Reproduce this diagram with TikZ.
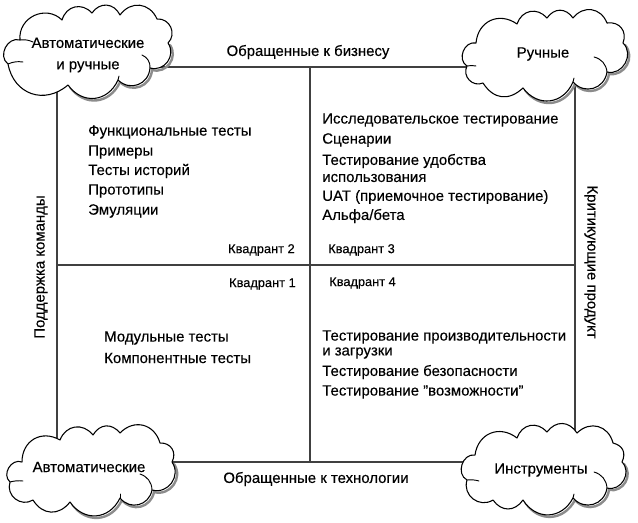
\documentclass[tikz,border=0pt]{standalone}
\usepackage{fontspec}
\setmainfont[FakeBold=0.25]{Liberation Sans}
\usetikzlibrary{backgrounds}
\tikzset{
 x=0.75pt,y=-0.75pt,
 txt/.style={font=\fontsize{11.2}{13}\selectfont,inner sep=0,anchor=west,text=black,align=left},
 ctr/.style={txt,anchor=center,align=center},
 quad/.style={txt,font=\fontsize{9.6}{11}\selectfont},
 rule/.style={draw=black!75,line width=0.9pt},
 cloudline/.style={draw=black,line width=0.8pt,fill=white,line join=round},
 shade/.style={draw=black!45,line width=1.8pt,line cap=round},
 curl/.style={draw=black,line width=0.7pt,line cap=round},
 bp/.style={bend left=#1,looseness=1.25},
}
\begin{document}
\begin{tikzpicture}
\useasboundingbox (0,0) rectangle (638,523);
% anchors of the frame
\coordinate (tlE) at (150,67); \coordinate (trW) at (470,67);
\coordinate (tlS) at (57,80); \coordinate (blN) at (57,445);
\coordinate (trS) at (575,80); \coordinate (brN) at (575,440);
\coordinate (blE) at (170,462); \coordinate (brW) at (470,462);
\coordinate (midL) at (57,265); \coordinate (midR) at (575,265);
\coordinate (midT) at (310,67); \coordinate (midB) at (310,462);
% cloud labels
\node[ctr] (ctl) at (88,55) {Автоматические\\[3pt]и ручные};
\node[ctr] (ctr) at (543,54) {Ручные};
\node[ctr] (cbl) at (89,467) {Автоматические};
\node[ctr] (cbr) at (541,470) {Инструменты};
% axis labels
\node[ctr] (top) at (308,52) {Обращенные к бизнесу};
\node[ctr] (bot) at (316,479) {Обращенные к технологии};
\node[ctr,rotate=90] (lft) at (41,267) {Поддержка команды};
\node[ctr,rotate=-90] (rgt) at (591,262) {Критикующие продукт};
% quadrant lists
\node[txt] (q2a) at (88,132) {Функциональные тесты};
\node[txt] (q2b) at (88,152) {Примеры};
\node[txt] (q2c) at (88,171) {Тесты историй};
\node[txt] (q2d) at (88,191) {Прототипы};
\node[txt] (q2e) at (88,211) {Эмуляции};
\node[txt] (q3a) at (322,120) {Исследовательское тестирование};
\node[txt] (q3b) at (322,140) {Сценарии};
\node[txt] (q3c) at (322,161) {Тестирование удобства};
\node[txt] (q3d) at (322,178) {использования};
\node[txt] (q3e) at (322,197) {UAT (приемочное тестирование)};
\node[txt] (q3f) at (322,216) {Альфа/бета};
\node[txt] (q1a) at (104,338) {Модульные тесты};
\node[txt] (q1b) at (104,358) {Компонентные тесты};
\node[txt] (q4a) at (322,337) {Тестирование производительности};
\node[txt] (q4b) at (322,353) {и загрузки};
\node[txt] (q4c) at (322,372) {Тестирование безопасности};
\node[txt] (q4d) at (322,392) {Тестирование "возможности"};
\node[quad,anchor=east] (k2) at (295,250) {Квадрант 2};
\node[quad] (k3) at (328,250) {Квадрант 3};
\node[quad,anchor=east] (k1) at (296,284) {Квадрант 1};
\node[quad] (k4) at (329,283) {Квадрант 4};
\begin{scope}[on background layer]
\draw[rule] (tlE) -- (trW);
\draw[rule] (blE) -- (brW);
\draw[rule] (tlS) -- (blN);
\draw[rule] (trS) -- (brN);
\draw[rule] (midL) -- (midR);
\draw[rule] (midT) -- (midB);
% top left cloud
\begin{scope}[shift={(2,2)}]
\draw[shade] (168,43) to[bp=70] (150,68) to[bp=65] (118,80) to[bp=60] (68,85);
\end{scope}
\draw[cloudline] (20,40) to[bp=70] (62,20) to[bp=60] (92,13) to[bp=60] (120,15) to[bp=60] (157,19)
 to[bp=70] (168,43) to[bp=70] (150,68) to[bp=65] (118,80) to[bp=60] (68,85)
 to[bp=60] (8,64) to[bp=80] (20,40) -- cycle;
\draw[curl] (20,40) to[bend left=15] (33,42);
\draw[curl] (8,64) to[bend left=15] (23,62);
\draw[curl] (142,55) to[bend left=35] (150,68);
\draw[curl] (118,80) -- (119,76);
% top right cloud
\begin{scope}[shift={(2,2)}]
\draw[shade] (623,43) to[bp=70] (607,72) to[bp=65] (573,82) to[bp=60] (523,88);
\end{scope}
\draw[cloudline] (476,43) to[bp=60] (517,24) to[bp=60] (547,18) to[bp=55] (573,18) to[bp=60] (607,23)
 to[bp=60] (623,43) to[bp=75] (607,72) to[bp=65] (573,82) to[bp=60] (523,88)
 to[bp=50] (483,83) to[bp=70] (467,66) to[bp=80] (476,43) -- cycle;
\draw[curl] (467,66) to[bend left=10] (476,66);
\draw[curl] (594,57) to[bend left=35] (607,72);
\draw[curl] (573,82) -- (574,78);
% bottom left cloud
\begin{scope}[shift={(2,2)}]
\draw[shade] (172,462) to[bp=70] (152,490) to[bp=65] (120,498) to[bp=60] (70,502);
\end{scope}
\draw[cloudline] (22,462) to[bp=60] (60,440) to[bp=60] (93,435) to[bp=55] (120,433) to[bp=60] (160,443)
 to[bp=60] (172,462) to[bp=70] (152,490) to[bp=65] (120,498) to[bp=60] (70,502)
 to[bp=55] (33,500) to[bp=70] (10,482) to[bp=80] (22,462) -- cycle;
\draw[curl] (10,482) to[bend left=10] (23,481);
\draw[curl] (140,474) to[bend left=35] (152,490);
\draw[curl] (120,498) -- (120,494);
% bottom right cloud
\begin{scope}[shift={(2,2)}]
\draw[shade] (622,462) to[bp=70] (607,488) to[bp=65] (573,498) to[bp=60] (523,500);
\end{scope}
\draw[cloudline] (475,455) to[bp=60] (517,438) to[bp=60] (547,432) to[bp=55] (577,433) to[bp=60] (613,443)
 to[bp=50] (622,462) to[bp=75] (607,488) to[bp=65] (573,498) to[bp=60] (523,500)
 to[bp=55] (493,500) to[bp=70] (467,480) to[bp=80] (475,455) -- cycle;
\draw[curl] (467,480) to[bend left=10] (479,481);
\draw[curl] (594,472) to[bend left=35] (607,488);
\draw[curl] (573,498) -- (574,494);
\end{scope}
\end{tikzpicture}
\end{document}
